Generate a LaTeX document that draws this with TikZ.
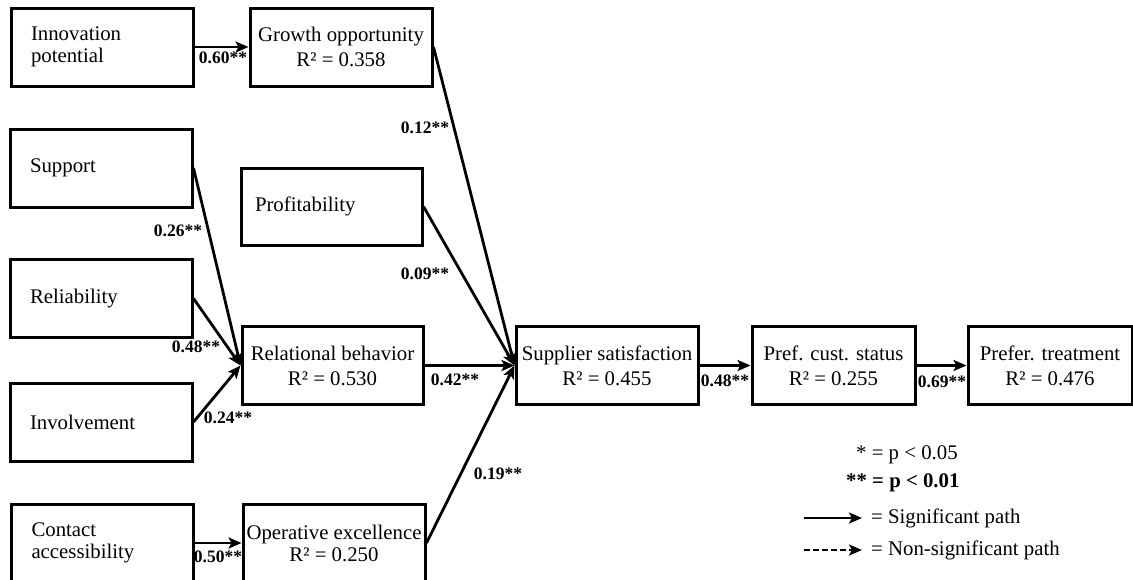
\documentclass[tikz,border=0pt]{standalone}
\usepackage{fontspec}
\setmainfont{Liberation Serif}
\usetikzlibrary{arrows.meta}
\begin{document}
\begin{tikzpicture}[x=1pt,y=-1pt,
  box/.style={draw, line width=3pt, minimum height=78pt, inner sep=2pt, align=center,
              font=\fontsize{20.8}{25}\selectfont},
  lbox/.style={box, align=left, inner xsep=20pt, text width=142pt},
  conn/.style={line width=2.8pt, -{Stealth[length=13pt,width=11pt,inset=3pt]}},
  coef/.style={font=\fontsize{17.5}{19}\selectfont\bfseries, inner sep=0pt},
  legend/.style={font=\fontsize{20.8}{24}\selectfont, anchor=west, inner sep=0pt}]
\useasboundingbox (0,0) rectangle (1133,579);

% left column
\node[lbox, font=\fontsize{20.8}{22}\selectfont] (inno) at (102,47) {Innovation\\potential};
\node[lbox] (supp) at (101,168) {Support};
\node[lbox] (reli) at (101,298.5) {Reliability};
\node[lbox] (invo) at (101,422) {Involvement};
\node[lbox, font=\fontsize{20.8}{22}\selectfont] (cont) at (102.5,543) {Contact\\accessibility};

% middle column
\node[box, minimum width=182pt] (grow) at (341,47) {Growth opportunity\\R² = 0.358};
\node[box, align=left, inner xsep=14pt, text width=153pt, minimum height=77pt] (prof) at (331.5,206.5) {Profitability};
\node[box, minimum width=181pt] (rela) at (332.5,365.5) {Relational behavior\\R² = 0.530};
\node[box, minimum width=182pt, font=\fontsize{20.8}{22}\selectfont] (oper) at (334,543) {Operative excellence\\R² = 0.250};

% main chain
\node[box, minimum width=182pt] (sati) at (607,365.5) {Supplier satisfaction\\R² = 0.455};
\node[box, minimum width=163pt] (stat) at (833.5,365.5) {Pref. cust. status\\R² = 0.255};
\node[box, minimum width=164pt] (trea) at (1050,365.5) {Prefer. treatment\\R² = 0.476};

% paths
\draw[conn] (inno.east) -- (grow.west);
\draw[conn] (cont.east) -- (oper.west);
\draw[conn] (supp.east) -- (rela.west);
\draw[conn] (reli.east) -- (rela.west);
\draw[conn] (invo.east) -- (rela.west);
\draw[conn] (grow.east) -- (sati.west);
\draw[conn] (prof.east) -- (sati.west);
\draw[conn] (rela.east) -- (sati.west);
\draw[conn] (oper.east) -- (sati.west);
\draw[conn] (sati.east) -- (stat.west);
\draw[conn] (stat.east) -- (trea.west);

% coefficients
\node[coef] (c060) at (223,58) {0.60**};
\node[coef] (c012) at (425,128) {0.12**};
\node[coef] (c026) at (178,231) {0.26**};
\node[coef] (c009) at (425,274) {0.09**};
\node[coef] (c048a) at (196,347) {0.48**};
\node[coef] (c024) at (228,418) {0.24**};
\node[coef] (c042) at (455,380) {0.42**};
\node[coef] (c019) at (498,474) {0.19**};
\node[coef] (c050) at (218,557) {0.50**};
\node[coef] (c048b) at (725,381) {0.48**};
\node[coef] (c069) at (942,382) {0.69**};

% legend
\node[legend] (lg1) at (856,455) {* = p {<} 0.05};
\node[legend, font=\fontsize{20.8}{24}\selectfont\bfseries] (lg2) at (846,483) {** = p {<} 0.01};
\coordinate (s1) at (804,518);
\coordinate (e1) at (862,518);
\coordinate (s2) at (804,550);
\coordinate (e2) at (862,550);
\draw[conn] (s1) -- (e1);
\draw[conn, dashed, dash pattern=on 6pt off 3pt] (s2) -- (e2);
\node[legend] (lg3) at (871,518) {= Significant path};
\node[legend] (lg4) at (871,550) {= Non-significant path};
\end{tikzpicture}
\end{document}
